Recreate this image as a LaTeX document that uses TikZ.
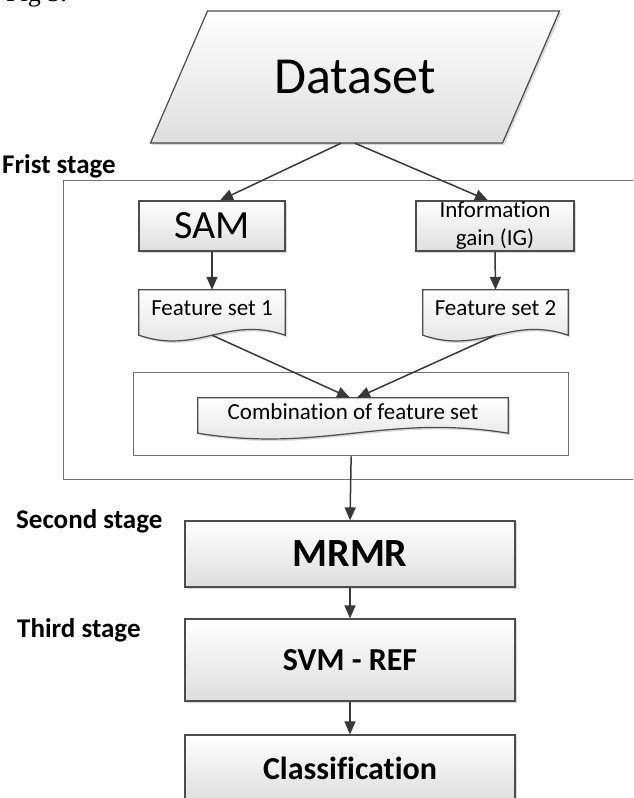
\documentclass[tikz,border=0pt]{standalone}
\usepackage{fontspec}
\setmainfont{Carlito}[Ligatures=NoCommon]
\newfontfamily\figfont{Liberation Serif}
\usetikzlibrary{arrows.meta,shadows,calc}
\tikzset{
  shade box/.style={top color=white, bottom color=black!13,
    drop shadow={shadow xshift=2pt,shadow yshift=-2pt,opacity=0.3}},
  procbox/.style={shade box, draw=black!70, line width=1.2pt, inner sep=0pt, align=center},
  docnode/.style={inner sep=0pt},
  docfill/.style={shade box, draw=black!70, line width=1.2pt},
  doctext/.style={inner sep=0pt, font=\fontsize{23}{28}\selectfont},
  frame/.style={draw=black!55, line width=1.3pt, inner sep=0pt},
  stagelabel/.style={inner sep=0pt, anchor=base west, font=\fontsize{27}{32}\selectfont\bfseries},
  conn/.style={draw=black!78, line width=1.5pt, -{Triangle[length=13pt,width=11pt]}},
  plain/.style={draw=black!78, line width=1.5pt}
}
\newcommand\docshape[3]{%
  \filldraw[docfill] (#1.south west) -- (#1.north west) -- (#1.north east) -- (#1.south east)
    .. controls +(-#2,-#3) and +(#2,#3) .. (#1.south west) -- cycle;}
\begin{document}
\begin{tikzpicture}[x=1pt,y=-1pt]
\useasboundingbox (0,0) rectangle (633,798);
\clip (0,0) rectangle (633,798);
% figure caption, cut at the top
\node[inner sep=0pt, anchor=base west, font=\figfont\fontsize{26}{30}\selectfont] (figcap) at (6,1) {Fig 3.};
% stage frames
\node[frame, anchor=north west, minimum width=600pt, minimum height=299pt] (frame1) at (63,180) {};
\node[frame, anchor=north west, minimum width=435pt, minimum height=83pt] (combframe) at (133,372) {};
% dataset
\filldraw[shade box, draw=black!70, line width=1.2pt] (150.5,143) -- (502.5,143) -- (559.5,11) -- (207.5,11) -- cycle;
\node[inner sep=0pt, minimum width=300pt, minimum height=132pt, font=\fontsize{52}{60}\selectfont] (dataset) at (355,77) {Dataset};
% labels
\node[stagelabel] (l1) at (2,173) {Frist stage};
\node[stagelabel] (l2) at (16,528) {Second stage};
\node[stagelabel] (l3) at (17,637) {Third stage};
% first stage boxes
\node[procbox, minimum width=146pt, minimum height=50pt, font=\fontsize{40}{44}\selectfont] (sam) at (212,226) {SAM};
\node[procbox, minimum width=158pt, minimum height=50pt, font=\fontsize{23}{28}\selectfont] (ig) at (495,226) {Information\\gain (IG)};
% documents
\node[docnode, minimum width=146pt, minimum height=45pt] (fs1) at (212,312.5) {};
\docshape{fs1}{58}{20}
\node[doctext] (fs1t) at (212,308) {Feature set 1};
\node[docnode, minimum width=145pt, minimum height=45pt] (fs2) at (495.5,312.5) {};
\docshape{fs2}{58}{20}
\node[doctext] (fs2t) at (495.5,308) {Feature set 2};
\node[docnode, minimum width=310pt, minimum height=35pt] (comb) at (353,415.5) {};
\docshape{comb}{124}{20}
\node[doctext] (combt) at (353,412) {Combination of feature set};
% later stages
\node[procbox, minimum width=330pt, minimum height=66pt, font=\fontsize{40}{44}\selectfont\bfseries] (mrmr) at (350,554) {MRMR};
\node[procbox, minimum width=330pt, minimum height=82pt, font=\fontsize{32}{36}\selectfont\bfseries] (svm) at (350,660) {SVM - REF};
\node[procbox, minimum width=330pt, minimum height=66pt, font=\fontsize{32}{36}\selectfont\bfseries] (cls) at (350,768) {Classification};
% connectors
\draw[conn] ([xshift=-14pt]dataset.south) -- ([xshift=8pt]sam.north);
\draw[conn] (dataset.south) -- ([xshift=-7pt]ig.north);
\draw[conn] (sam.south) -- (fs1.north);
\draw[conn] (ig.south) -- (fs2.north);
\draw[conn] (fs1.south) -- ([xshift=-3pt]comb.north);
\draw[conn] (fs2.south) -- ([xshift=4pt]comb.north);
\draw[conn] (combframe.south) -- (mrmr.north);
\draw[conn] (mrmr.south) -- (svm.north);
\draw[conn] (svm.south) -- (cls.north);
\end{tikzpicture}
\end{document}
